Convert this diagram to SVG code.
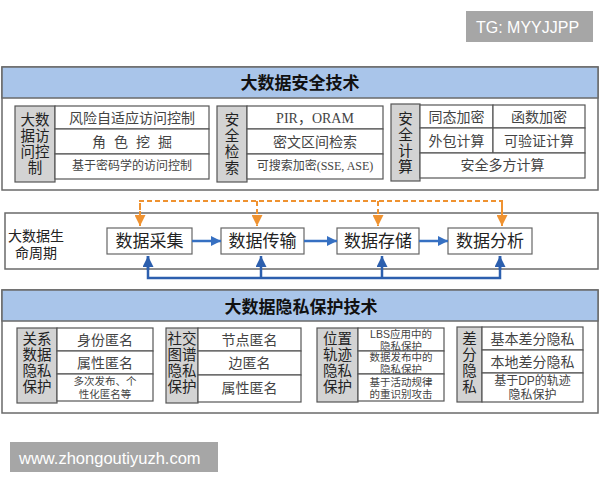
<svg xmlns="http://www.w3.org/2000/svg" width="600" height="480" viewBox="0 0 600 480">
<defs>
<style>
.panel{fill:#fff;stroke:#6a6a6a;stroke-width:1.5}
.hdr{fill:#a9c5ea;stroke:#6a6a6a;stroke-width:1.5}
.lbl{fill:#d3d3d3;stroke:#555;stroke-width:1.2}
.cell{fill:#fff;stroke:#555;stroke-width:1.2}
.box{fill:#fff;stroke:#666;stroke-width:1.2}
text{font-family:"Liberation Sans","Noto Sans CJK SC",sans-serif;text-anchor:middle;dominant-baseline:central}
.title{font-size:17px;font-weight:bold;fill:#111}
.lt{font-size:14.5px;fill:#222}
.ct{font-size:14px;fill:#444}
.cs{font-size:12px;fill:#444}
.cx{font-size:10.5px;fill:#444}
.lc{font-size:17px;fill:#222}
.ser{font-family:"Liberation Serif","Noto Sans CJK SC",serif}
.wm{font-family:"Liberation Sans",Arial,sans-serif;fill:#fff;text-anchor:start}
.blue{stroke:#3670c2;stroke-width:2.5;fill:none}
.dblue{stroke:#2c5fae;stroke-width:2.5;fill:none}
.orange{stroke:#ef9230;stroke-width:2;fill:none;stroke-dasharray:5 3}
</style>
<marker id="ab" viewBox="0 0 10 10" refX="10" refY="5" markerWidth="10" markerHeight="10" markerUnits="userSpaceOnUse" orient="auto"><path d="M0,0L10,5L0,10Z" fill="#3670c2"/></marker>
<marker id="adb" viewBox="0 0 10 10" refX="10" refY="5" markerWidth="11" markerHeight="11" markerUnits="userSpaceOnUse" orient="auto"><path d="M0,0L10,5L0,10Z" fill="#2c5fae"/></marker>
<marker id="ao" viewBox="0 0 10 10" refX="10" refY="5" markerWidth="11" markerHeight="11" markerUnits="userSpaceOnUse" orient="auto"><path d="M0,0L10,5L0,10Z" fill="#ef9230"/></marker>
</defs>

<!-- watermarks -->
<g id="wm1"><rect x="466" y="11" width="127" height="31" fill="#a6a6a6"/><text class="wm" x="476" y="27" font-size="16">TG: MYYJJPP</text></g>

<!-- security panel -->
<g id="security">
<rect class="panel" x="2" y="67" width="596" height="123"/>
<rect class="hdr" x="2" y="67" width="596" height="31"/>
<text class="title" x="300" y="83">大数据安全技术</text>
</g>
<g id="access">
<rect class="lbl" x="15" y="106" width="40" height="76"/>
<text class="lt" x="35" y="120">大数</text><text class="lt" x="35" y="136">据访</text><text class="lt" x="35" y="152">问控</text><text class="lt" x="35" y="168">制</text>
<rect class="cell" x="55" y="106" width="154" height="23"/>
<rect class="cell" x="55" y="129" width="154" height="25"/>
<rect class="cell" x="55" y="154" width="154" height="25"/>
<text class="ct" x="132" y="118">风险自适应访问控制</text>
<text class="ct" x="99" y="142">角</text><text class="ct" x="121" y="142">色</text><text class="ct" x="143" y="142">挖</text><text class="ct" x="165" y="142">掘</text>
<text class="cs" x="132" y="166">基于密码学的访问控制</text>
</g>
<g id="retrieval">
<rect class="lbl" x="217" y="106" width="30" height="76"/>
<text class="lt" x="232" y="120">安</text><text class="lt" x="232" y="136">全</text><text class="lt" x="232" y="152">检</text><text class="lt" x="232" y="168">索</text>
<rect class="cell" x="247" y="106" width="136" height="23"/>
<rect class="cell" x="247" y="129" width="136" height="25"/>
<rect class="cell" x="247" y="154" width="136" height="25"/>
<text class="ct ser" x="315" y="118">PIR，ORAM</text>
<text class="ct" x="315" y="142">密文区间检索</text>
<text class="cs" x="315" y="166">可搜索加密<tspan class="ser">(SSE, ASE)</tspan></text>
</g>
<g id="computing">
<rect class="lbl" x="391" y="104" width="29" height="77"/>
<text class="lt" x="405.5" y="119">安</text><text class="lt" x="405.5" y="135">全</text><text class="lt" x="405.5" y="151">计</text><text class="lt" x="405.5" y="167">算</text>
<rect class="cell" x="420" y="105" width="73" height="23"/>
<rect class="cell" x="493" y="105" width="92" height="23"/>
<rect class="cell" x="420" y="128" width="73" height="25"/>
<rect class="cell" x="493" y="128" width="92" height="25"/>
<rect class="cell" x="420" y="153" width="165" height="25"/>
<text class="ct" x="456.5" y="117">同态加密</text>
<text class="ct" x="539" y="117">函数加密</text>
<text class="ct" x="456.5" y="141">外包计算</text>
<text class="ct" x="539" y="141">可验证计算</text>
<text class="ct" x="502.5" y="165">安全多方计算</text>
</g>

<!-- lifecycle -->
<g id="lifecycle">
<rect class="panel" x="5" y="213" width="593" height="56"/>
<text class="lt" x="8" y="236" style="text-anchor:start;font-size:14px">大数据生</text>
<text class="lt" x="15" y="253" style="text-anchor:start;font-size:14px">命周期</text>
</g>
<g id="collect"><rect class="box" x="107" y="228" width="85" height="26"/><text class="lc" x="149.5" y="241">数据采集</text></g>
<g id="transfer"><rect class="box" x="221" y="228" width="83" height="26"/><text class="lc" x="262.5" y="241">数据传输</text></g>
<g id="storage"><rect class="box" x="337" y="228" width="82" height="26"/><text class="lc" x="378" y="241">数据存储</text></g>
<g id="analysis"><rect class="box" x="448" y="228" width="84" height="26"/><text class="lc" x="490" y="241">数据分析</text></g>

<g id="connectors">
<path class="blue" d="M192,241H221" marker-end="url(#ab)"/>
<path class="blue" d="M304,241H337" marker-end="url(#ab)"/>
<path class="blue" d="M419,241H448" marker-end="url(#ab)"/>
<path class="orange" d="M140,226V201H502V226"/>
<path class="orange" d="M140,203V226" marker-end="url(#ao)"/>
<path class="orange" d="M257,201V226" marker-end="url(#ao)"/>
<path class="orange" d="M378,201V226" marker-end="url(#ao)"/>
<path class="orange" d="M502,203V226" marker-end="url(#ao)"/>
<path class="dblue" d="M148,256V278H500V256"/>
<path class="dblue" d="M148,270V256" marker-end="url(#adb)"/>
<path class="dblue" d="M261,278V256" marker-end="url(#adb)"/>
<path class="dblue" d="M382,278V256" marker-end="url(#adb)"/>
<path class="dblue" d="M500,270V256" marker-end="url(#adb)"/>
</g>

<!-- privacy panel -->
<g id="privacy">
<rect class="panel" x="2" y="290" width="596" height="123"/>
<rect class="hdr" x="2" y="290" width="596" height="31"/>
<text class="title" x="301" y="307">大数据隐私保护技术</text>
</g>
<g id="relational">
<rect class="lbl" x="17" y="328" width="40" height="75"/>
<text class="lt" x="37" y="339">关系</text><text class="lt" x="37" y="355">数据</text><text class="lt" x="37" y="371">隐私</text><text class="lt" x="37" y="387">保护</text>
<rect class="cell" x="57" y="328" width="96" height="23"/>
<rect class="cell" x="57" y="351" width="96" height="23"/>
<rect class="cell" x="57" y="374" width="96" height="27"/>
<text class="ct" x="105" y="339.5">身份匿名</text>
<text class="ct" x="105" y="362.5">属性匿名</text>
<text class="cx" x="105" y="381">多次发布、个</text>
<text class="cx" x="105" y="394">性化匿名等</text>
</g>
<g id="social">
<rect class="lbl" x="166" y="328" width="32" height="75"/>
<text class="lt" x="182" y="339">社交</text><text class="lt" x="182" y="355">图谱</text><text class="lt" x="182" y="371">隐私</text><text class="lt" x="182" y="387">保护</text>
<rect class="cell" x="198" y="328" width="103" height="23"/>
<rect class="cell" x="198" y="351" width="103" height="24"/>
<rect class="cell" x="198" y="375" width="103" height="27"/>
<text class="ct" x="249.5" y="339.5">节点匿名</text>
<text class="ct" x="249.5" y="363">边匿名</text>
<text class="ct" x="249.5" y="388">属性匿名</text>
</g>
<g id="trajectory">
<rect class="lbl" x="317" y="328" width="41" height="74"/>
<text class="lt" x="337.5" y="339">位置</text><text class="lt" x="337.5" y="355">轨迹</text><text class="lt" x="337.5" y="371">隐私</text><text class="lt" x="337.5" y="387">保护</text>
<rect class="cell" x="358" y="328" width="86" height="23"/>
<rect class="cell" x="358" y="351" width="86" height="23"/>
<rect class="cell" x="358" y="374" width="86" height="27"/>
<text class="cx" x="401" y="333.5">LBS应用中的</text>
<text class="cx" x="401" y="345.5">隐私保护</text>
<text class="cx" x="401" y="356.5">数据发布中的</text>
<text class="cx" x="401" y="368.5">隐私保护</text>
<text class="cx" x="401" y="381.5">基于活动规律</text>
<text class="cx" x="401" y="394">的重识别攻击</text>
</g>
<g id="differential">
<rect class="lbl" x="457" y="327" width="25" height="75"/>
<text class="lt" x="469.5" y="339">差</text><text class="lt" x="469.5" y="355">分</text><text class="lt" x="469.5" y="371">隐</text><text class="lt" x="469.5" y="387">私</text>
<rect class="cell" x="482" y="327" width="101" height="23"/>
<rect class="cell" x="482" y="350" width="101" height="23"/>
<rect class="cell" x="482" y="373" width="101" height="29"/>
<text class="ct" x="532.5" y="338.5">基本差分隐私</text>
<text class="ct" x="532.5" y="361.5">本地差分隐私</text>
<text class="cs" x="532.5" y="381">基于DP的轨迹</text>
<text class="cs" x="532.5" y="395">隐私保护</text>
</g>

<g id="wm2"><rect x="10" y="442" width="208" height="30" fill="#a6a6a6"/><text class="wm" x="19" y="457.5" font-size="16.5">www.zhongoutiyuzh.com</text></g>
</svg>
